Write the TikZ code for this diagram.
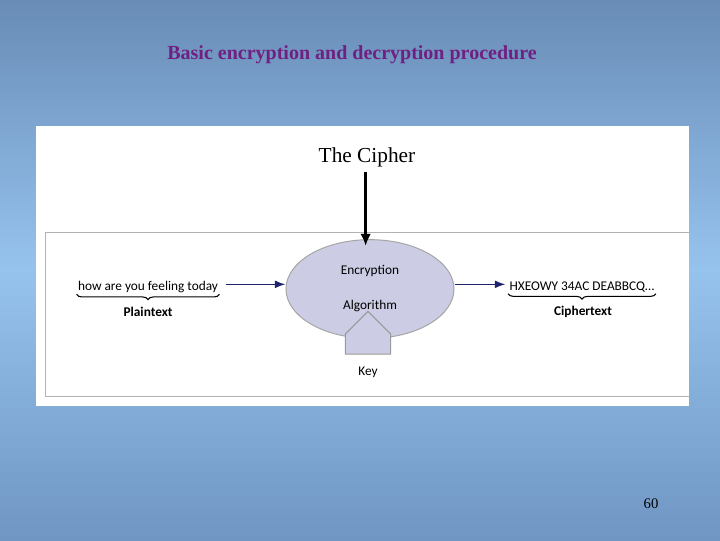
\documentclass[tikz,border=0pt]{standalone}
\usepackage{fontspec}
\setmainfont{Liberation Serif}
\newfontfamily\figfont{Carlito}
\usetikzlibrary{decorations.pathreplacing,shapes.arrows,shapes.geometric,arrows.meta}
\definecolor{bgtop}{RGB}{104,140,182}
\definecolor{bgmid}{RGB}{150,195,238}
\definecolor{bgbot}{RGB}{112,150,195}
\definecolor{titlepurple}{RGB}{112,32,130}
\definecolor{navyarrow}{RGB}{30,35,110}
\definecolor{ovalfill}{RGB}{204,204,228}
\tikzset{every picture/.style={line width=0.75pt}}
\tikzset{
  figtext/.style={font=\figfont\fontsize{10}{12}\selectfont, inner sep=0.75pt},
  flow/.style={navyarrow, line width=1.2pt, -{Latex[length=8pt,width=6pt]}},
  brace/.style={decorate, decoration={brace, mirror, amplitude=4pt}, line width=0.8pt}
}
\begin{document}
\begin{tikzpicture}[x=0.75pt,y=0.75pt,yscale=-1]
%background
\shade[top color=bgtop, bottom color=bgbot, middle color=bgmid] (0,0) rectangle (720,540);
\useasboundingbox (0,0) rectangle (720,540);
%white panel
\fill[white] (36,126) rectangle (689,406);
\draw[gray!60, line width=0.6pt] (45,232) -- (689,232) (45,232) -- (45,396) -- (689,396);
% Title
\node (title) at (352,55) {\fontsize{15}{18}\selectfont\bfseries\color{titlepurple}Basic encryption and decryption procedure};
\node (cipher) at (367,157) {\fontsize{16}{19}\selectfont The Cipher};
% Algorithm oval
\node (algo) [ellipse, draw=gray!70, fill=ovalfill, minimum width=126, minimum height=74] at (370,289) {};
\node (enc) [figtext] at (370,271) {Encryption};
\node (alg) [figtext] at (370,306) {Algorithm};
\draw[line width=2pt, -{Latex[length=9pt,width=8pt]}] ([xshift=-1pt]cipher.south) -- ([xshift=-1pt,yshift=5pt]cipher.south |- algo.north);
% plaintext
\node (plain) [figtext] at (148,287) {how are you feeling today};
\draw[brace] (plain.south west) -- (plain.south east);
\node (plainlbl) [figtext] at (148,312) {\bfseries Plaintext};
\node (ctext) [figtext] at (582,287) {HXEOWY 34AC DEABBCQ\dots};
\draw[brace] (ctext.south west) -- (ctext.south east);
\node (ctextlbl) [figtext] at (583,312) {\bfseries Ciphertext};
\draw[flow] ([xshift=5pt,yshift=-2pt]plain.east) coordinate (p0) -- (algo.west |- p0);
\draw[flow] (algo.east |- p0) -- ([xshift=-2pt]ctext.west |- p0);
% key
\node (key) [figtext] at (368,372) {Key};
\node (keyarrow) [single arrow, shape border rotate=90, draw=gray!80, fill=ovalfill, minimum height=32, minimum width=34, single arrow head extend=0pt, inner sep=4pt] at (368,344) {};
% page number
\node (page) at (651,504) {\fontsize{11}{13}\selectfont 60};
\end{tikzpicture}
\end{document}
